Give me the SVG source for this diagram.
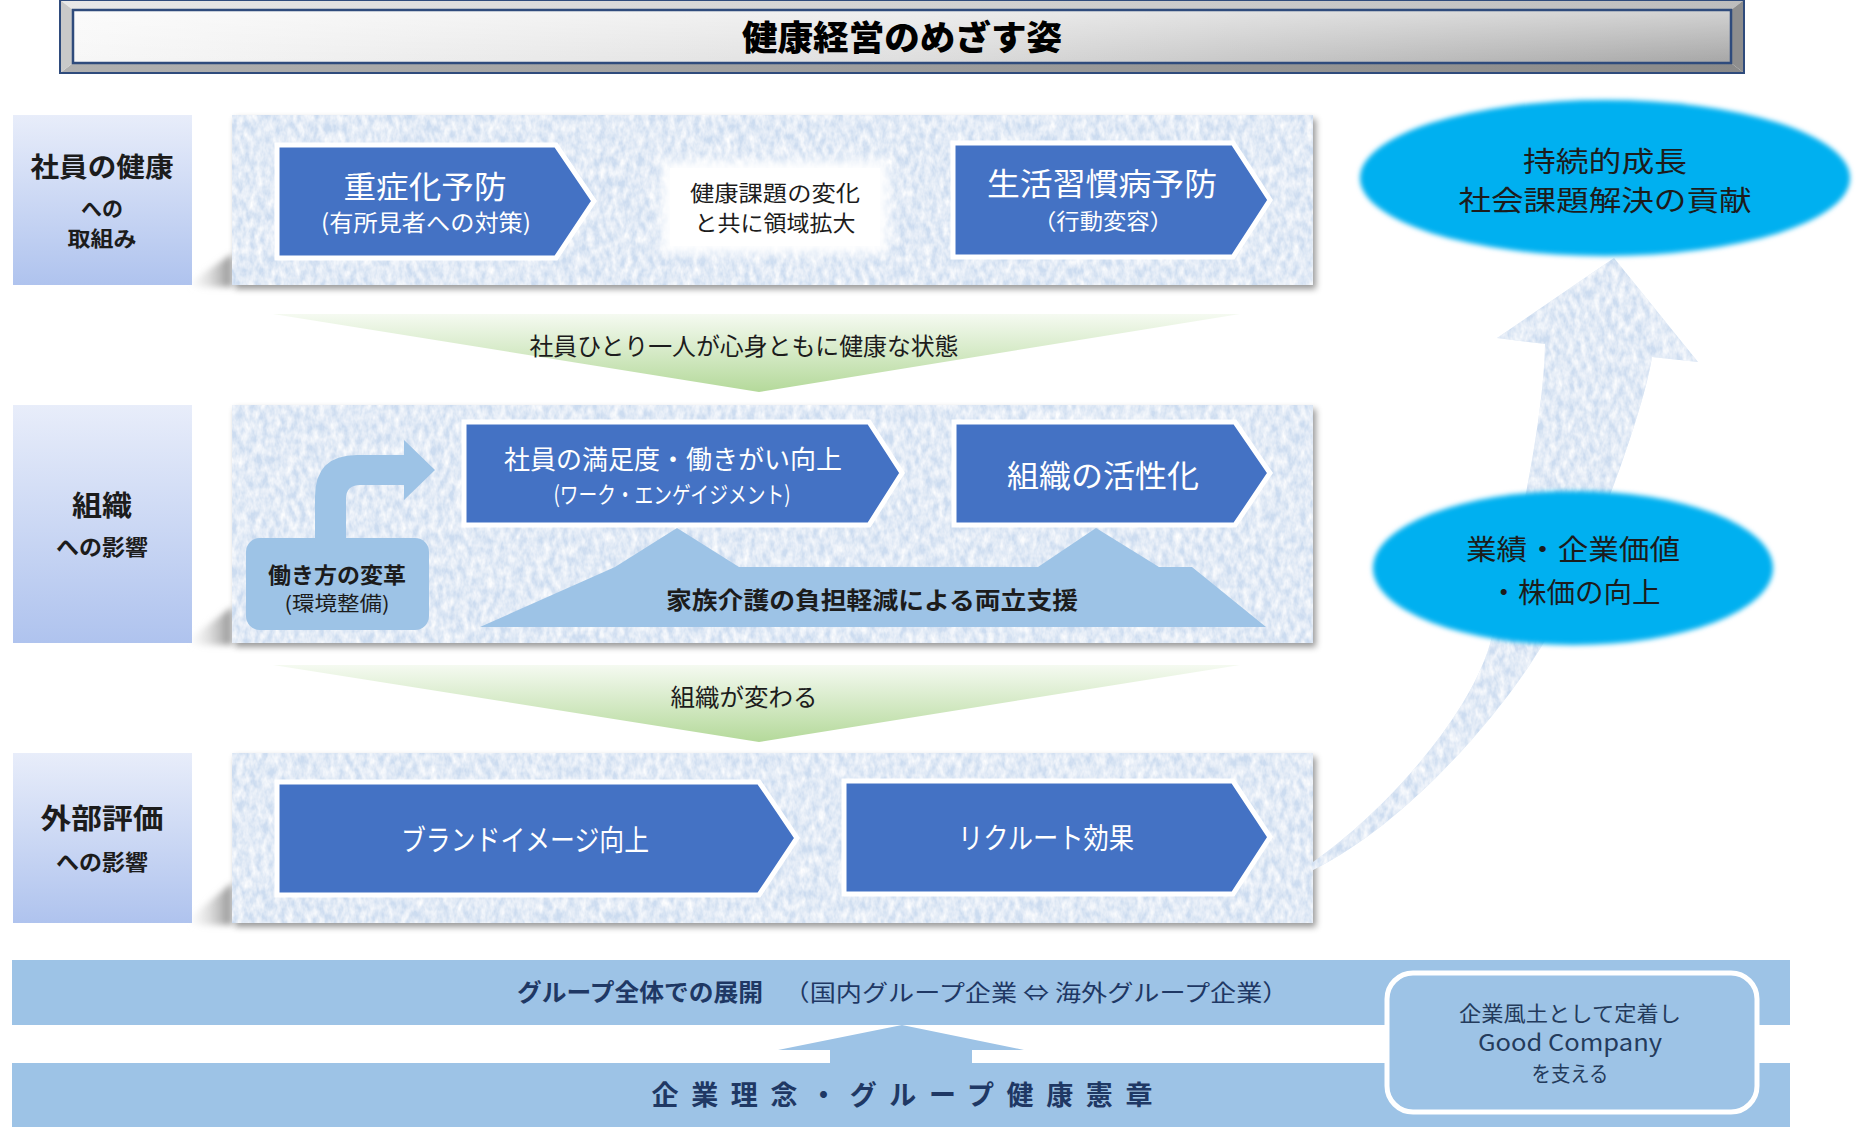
<svg xmlns="http://www.w3.org/2000/svg" width="1860" height="1133" viewBox="0 0 1860 1133">
<defs>
<style>
text{font-family:'Noto Sans CJK JP','Noto Sans',sans-serif;text-anchor:middle}
.b{font-weight:700}
.pent{fill:#4472c4;stroke:#fff;stroke-width:5;stroke-linejoin:miter}
.wt{fill:#fff}
.dk{fill:#1c1c1c}
.nv{fill:#1f3864}
.bx{fill:#243b5c}
.lb{fill:url(#gLbl)}
.lt{fill:#9dc3e6}
.ell{fill:#00b0f0}
.fun{fill:url(#gFun)}
.wedge{fill:url(#gWedge)}
.panel{fill:#ccdcf0}
</style>
<linearGradient id="gLbl" x1="0" y1="0" x2="0" y2="1"><stop offset="0" stop-color="#e8edfa"/><stop offset="1" stop-color="#afc3ee"/></linearGradient>
<linearGradient id="gFun" x1="0" y1="0" x2="0" y2="1"><stop offset="0" stop-color="#f5faf1"/><stop offset="1" stop-color="#b4d99a"/></linearGradient>
<linearGradient id="gWedge" x1="0" y1="0" x2="1" y2="0"><stop offset="0" stop-color="#e6e6e6" stop-opacity="0.2"/><stop offset="1" stop-color="#909090"/></linearGradient>
<linearGradient id="gFace" x1="0" y1="0" x2="1" y2="0"><stop offset="0" stop-color="#f7f7f7"/><stop offset="0.5" stop-color="#dedede"/><stop offset="1" stop-color="#a6a6a6"/></linearGradient>
<linearGradient id="gFaceV" x1="0" y1="0" x2="0" y2="1"><stop offset="0" stop-color="#fff" stop-opacity="0.5"/><stop offset="1" stop-color="#fff" stop-opacity="0"/></linearGradient>
<linearGradient id="gTop" x1="0" y1="0" x2="1" y2="0"><stop offset="0" stop-color="#e8e8e8"/><stop offset="1" stop-color="#bdbdbd"/></linearGradient>
<linearGradient id="gBot" x1="0" y1="0" x2="1" y2="0"><stop offset="0" stop-color="#b0b0b0"/><stop offset="1" stop-color="#8a8a8a"/></linearGradient>
<filter id="tex" x="0" y="0" width="1" height="1">
<feTurbulence type="fractalNoise" baseFrequency="0.16 0.09" numOctaves="3" seed="7" result="n"/>
<feColorMatrix in="n" type="matrix" values="0 0 0 0 1  0 0 0 0 1  0 0 0 0 1  1.5 0 0 0 -0.35" result="w"/>
<feComposite in="w" in2="SourceGraphic" operator="in" result="wc"/>
<feMerge><feMergeNode in="SourceGraphic"/><feMergeNode in="wc"/></feMerge>
</filter>
<filter id="sh" x="-3%" y="-5%" width="108%" height="120%">
<feDropShadow dx="3" dy="4" stdDeviation="3" flood-color="#000" flood-opacity="0.4"/>
</filter>
<filter id="soft" x="-5%" y="-10%" width="110%" height="120%"><feGaussianBlur stdDeviation="2.5"/></filter>
<filter id="glow" x="-20%" y="-30%" width="140%" height="160%"><feGaussianBlur stdDeviation="6"/></filter>
<filter id="blur2" x="-30%" y="-60%" width="160%" height="220%"><feGaussianBlur stdDeviation="3"/></filter>
</defs>

<rect width="1860" height="1133" fill="#fff"/>

<g id="title">
<polygon points="60,0 1744,0 1731,10 73,10" fill="url(#gTop)"/>
<polygon points="73,63 1731,63 1744,73 60,73" fill="url(#gBot)"/>
<polygon points="60,0 73,10 73,63 60,73" fill="#c9c9c9"/>
<polygon points="1744,0 1731,10 1731,63 1744,73" fill="#8e8e8e"/>
<rect x="73" y="10" width="1658" height="53" fill="url(#gFace)"/>
<rect x="73" y="10" width="1658" height="53" fill="url(#gFaceV)"/>
<rect x="73" y="10" width="1658" height="53" fill="none" stroke="#2f4b7c" stroke-width="2.5"/>
<rect x="60" y="0" width="1684" height="73" fill="none" stroke="#2f4b7c" stroke-width="2"/>
<text x="902" y="50" font-size="34" font-weight="900" fill="#000" textLength="320" lengthAdjust="spacingAndGlyphs">健康経営のめざす姿</text>
</g>

<g id="label-health">
<polygon class="wedge" points="192,281 232,254 232,287 192,287" filter="url(#blur2)"/>
<rect class="lb" x="13" y="115" width="179" height="170"/>
<text class="dk b" x="102" y="177" font-size="27" textLength="143" lengthAdjust="spacingAndGlyphs">社員の健康</text>
<text class="dk b" x="102" y="216" font-size="21" textLength="42" lengthAdjust="spacingAndGlyphs">への</text>
<text class="dk b" x="102" y="246" font-size="21" textLength="69" lengthAdjust="spacingAndGlyphs">取組み</text>
</g>

<g id="label-org">
<polygon class="wedge" points="192,637 232,607 232,645 192,645" filter="url(#blur2)"/>
<rect class="lb" x="13" y="405" width="179" height="238"/>
<text class="dk b" x="102" y="516" font-size="28" textLength="60" lengthAdjust="spacingAndGlyphs">組織</text>
<text class="dk b" x="102" y="555" font-size="22" textLength="92" lengthAdjust="spacingAndGlyphs">への影響</text>
</g>

<g id="label-ext">
<polygon class="wedge" points="192,916 232,883 232,925 192,925" filter="url(#blur2)"/>
<rect class="lb" x="13" y="753" width="179" height="170"/>
<text class="dk b" x="102" y="829" font-size="28" textLength="123" lengthAdjust="spacingAndGlyphs">外部評価</text>
<text class="dk b" x="102" y="870" font-size="22" textLength="92" lengthAdjust="spacingAndGlyphs">への影響</text>
</g>

<g id="panel-health">
<g filter="url(#sh)"><rect class="panel" x="232" y="115" width="1081" height="170" filter="url(#tex)"/></g>
<g id="prevent-severe">
<path class="pent" d="M277,145 H556 L594,201 L556,258 H277 Z"/>
<text class="wt" x="425" y="198" font-size="31" textLength="163" lengthAdjust="spacingAndGlyphs">重症化予防</text>
<text class="wt" x="426" y="231" font-size="23" textLength="210" lengthAdjust="spacingAndGlyphs">(有所見者への対策)</text>
</g>
<g id="expand-note">
<rect x="662" y="161" width="226" height="92" fill="#fff" filter="url(#glow)"/>
<rect x="670" y="168" width="210" height="78" fill="#fff"/>
<text class="dk" x="775" y="201" font-size="22" textLength="170" lengthAdjust="spacingAndGlyphs">健康課題の変化</text>
<text class="dk" x="775" y="231" font-size="22" textLength="161" lengthAdjust="spacingAndGlyphs">と共に領域拡大</text>
</g>
<g id="prevent-lifestyle">
<path class="pent" d="M953,143 H1233 L1270,200 L1233,257 H953 Z"/>
<text class="wt" x="1102" y="195" font-size="31" textLength="230" lengthAdjust="spacingAndGlyphs">生活習慣病予防</text>
<text class="wt" x="1103" y="229" font-size="22" textLength="140" lengthAdjust="spacingAndGlyphs">（行動変容）</text>
</g>
</g>

<g id="panel-org">
<g filter="url(#sh)"><rect class="panel" x="232" y="405" width="1081" height="238" filter="url(#tex)"/></g>
<g id="satisfaction">
<path class="pent" d="M464,422 H869 L902,473 L869,525 H464 Z"/>
<text class="wt" x="673" y="469" font-size="26" textLength="338" lengthAdjust="spacingAndGlyphs">社員の満足度・働きがい向上</text>
<text class="wt" x="672" y="503" font-size="23" textLength="237" lengthAdjust="spacingAndGlyphs">(ワーク・エンゲイジメント)</text>
</g>
<g id="activation">
<path class="pent" d="M954,422 H1235 L1270,473 L1235,525 H954 Z"/>
<text class="wt" x="1103" y="487" font-size="31" textLength="192" lengthAdjust="spacingAndGlyphs">組織の活性化</text>
</g>
<g id="family-care">
<polygon class="lt" points="480,627 615,567 677,528 739,567 1038,567 1096,528 1159,567 1192,567 1266,627"/>
<text class="dk b" x="872" y="609" font-size="24" textLength="412" lengthAdjust="spacingAndGlyphs">家族介護の負担軽減による両立支援</text>
</g>
<g id="work-style">
<rect class="lt" x="246" y="538" width="183" height="92" rx="14"/>
<text class="dk b" x="337" y="583" font-size="22" textLength="138" lengthAdjust="spacingAndGlyphs">働き方の変革</text>
<text class="dk" x="337" y="611" font-size="20" textLength="105" lengthAdjust="spacingAndGlyphs">(環境整備)</text>
</g>
</g>

<g id="panel-ext">
<g filter="url(#sh)"><rect class="panel" x="232" y="753" width="1081" height="170" filter="url(#tex)"/></g>
<g id="brand">
<path class="pent" d="M277,782 H759 L797,838 L759,895 H277 Z"/>
<text class="wt" x="525" y="851" font-size="29" textLength="248" lengthAdjust="spacingAndGlyphs">ブランドイメージ向上</text>
</g>
<g id="recruit">
<path class="pent" d="M844,781 H1233 L1270,837 L1233,894 H844 Z"/>
<text class="wt" x="1046" y="849" font-size="29" textLength="176" lengthAdjust="spacingAndGlyphs">リクルート効果</text>
</g>
</g>

<g id="connectors">
<g id="funnel-1">
<polygon class="fun" points="273,314 1240,314 759,392"/>
<text class="dk" x="744" y="355" font-size="24" textLength="429" lengthAdjust="spacingAndGlyphs">社員ひとり一人が心身ともに健康な状態</text>
</g>
<g id="funnel-2">
<polygon class="fun" points="273,665 1240,665 759,742"/>
<text class="dk" x="744" y="706" font-size="24" textLength="147" lengthAdjust="spacingAndGlyphs">組織が変わる</text>
</g>
<path id="bent-arrow" class="lt" d="M315,540 L315,497 Q315,455 357,455 L404,455 L404,440 L435,470 L404,500 L404,485 L360,485 Q346,485 346,499 L346,540 Z"/>
<path id="growth-arrow" class="panel" filter="url(#tex)" d="M1313,870 C1403,826 1498,719 1543,644 C1578,587 1642,422 1652,357 L1698,362 L1614,258 L1497,338 L1545,344 C1544,420 1515,560 1490,644 C1468,719 1383,813 1313,862 Z"/>
<polygon id="up-arrow" class="lt" points="830,1064 830,1050 778,1050 902,1025 1024,1050 972,1050 972,1064"/>
</g>

<g id="goal-sustain">
<ellipse class="ell" cx="1605" cy="178" rx="245" ry="78" filter="url(#soft)"/>
<text class="dk" x="1605" y="172" font-size="28" textLength="164" lengthAdjust="spacingAndGlyphs">持続的成長</text>
<text class="dk" x="1605" y="211" font-size="28" textLength="293" lengthAdjust="spacingAndGlyphs">社会課題解決の貢献</text>
</g>

<g id="goal-value">
<ellipse class="ell" cx="1573" cy="568" rx="200" ry="77" filter="url(#soft)"/>
<text class="dk" x="1573" y="560" font-size="28" textLength="214" lengthAdjust="spacingAndGlyphs">業績・企業価値</text>
<text class="dk" x="1575" y="603" font-size="28" textLength="171" lengthAdjust="spacingAndGlyphs">・株価の向上</text>
</g>

<g id="group-band">
<rect class="lt" x="12" y="960" width="1778" height="65"/>
<text class="nv b" x="640" y="1001" font-size="24" textLength="246" lengthAdjust="spacingAndGlyphs">グループ全体での展開</text>
<text class="nv" x="1036" y="1001" font-size="23" textLength="505" lengthAdjust="spacingAndGlyphs">（国内グループ企業 ⇔ 海外グループ企業）</text>
</g>

<g id="philosophy-band">
<rect class="lt" x="12" y="1063" width="1778" height="64"/>
<text class="nv b" x="902" y="1105" font-size="27" textLength="501">企業理念・グループ健康憲章</text>
</g>

<g id="good-company">
<rect class="lt" x="1387" y="973" width="370" height="139" rx="26" stroke="#fff" stroke-width="5"/>
<text class="bx" x="1570" y="1021" font-size="21" textLength="222" lengthAdjust="spacingAndGlyphs">企業風土として定着し</text>
<text class="bx" x="1570" y="1051" font-size="23" textLength="184" lengthAdjust="spacingAndGlyphs">Good Company</text>
<text class="bx" x="1570" y="1081" font-size="21" textLength="77" lengthAdjust="spacingAndGlyphs">を支える</text>
</g>
</svg>
